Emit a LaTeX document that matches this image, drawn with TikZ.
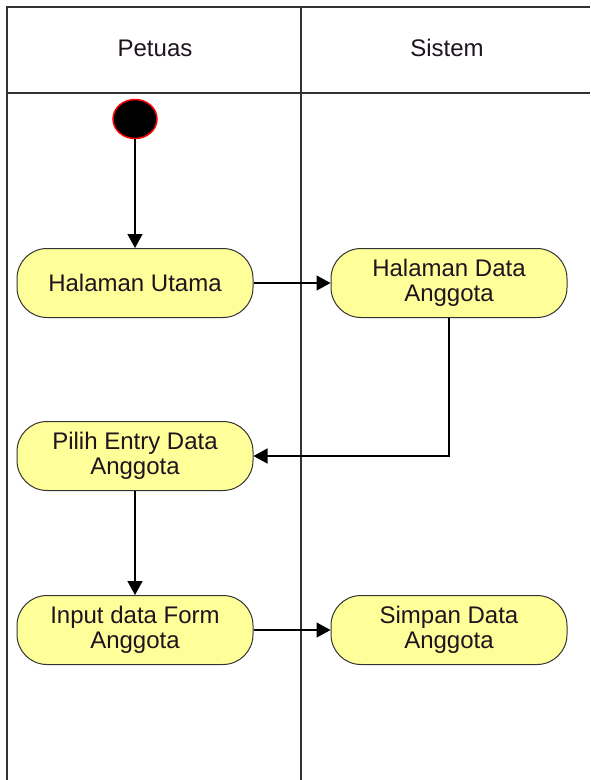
\documentclass[tikz,border=0pt]{standalone}
\usepackage{fontspec}
\setmainfont{Liberation Sans}
\usetikzlibrary{arrows.meta,shapes.geometric}
\definecolor{boxfill}{RGB}{255,255,153}
\definecolor{framecol}{RGB}{50,50,50}
\definecolor{txt}{RGB}{30,20,30}
\tikzset{
  act/.style={draw=black!80, line width=1pt, fill=boxfill, rounded corners=30pt,
    minimum width=236pt, minimum height=69pt, align=center, text=txt,
    font=\fontsize{24pt}{25pt}\selectfont, inner sep=0pt},
  flow/.style={draw=black, line width=1.4pt, -{Triangle[length=14pt,width=15pt]}},
  frame/.style={draw=framecol, line width=2pt},
  lane/.style={font=\fontsize{24pt}{26pt}\selectfont, text=txt}
}
\begin{document}
\begin{tikzpicture}[x=1pt,y=-1pt]
\useasboundingbox (0,0) rectangle (590,780);
\fill[white] (0,0) rectangle (590,780);
% swimlane frame
\draw[frame] (590,7) -- (7,7) -- (7,780);
\draw[frame] (7,93) -- (590,93);
\draw[frame] (301,7) -- (301,780);
\node[lane] (petuas) at (155,48) {Petuas};
\node[lane] (sistem) at (447,48) {Sistem};
% start
\node[draw=red, line width=1.5pt, fill=black, ellipse, minimum width=44pt, minimum height=39pt, inner sep=0pt] (start) at (135,119) {};
% activities
\node[act] (utama) at (135,283) {Halaman Utama};
\node[act] (hdata) at (449,283) {Halaman Data\\Anggota};
\node[act] (pilih) at (135,456) {Pilih Entry Data\\Anggota};
\node[act] (input) at (135,630) {Input data Form\\Anggota};
\node[act] (simpan) at (449,630) {Simpan Data\\Anggota};
% flows
\draw[flow] (start) -- (utama);
\draw[flow] (utama) -- (hdata);
\draw[flow] (hdata.south) |- (pilih.east);
\draw[flow] (pilih) -- (input);
\draw[flow] (input) -- (simpan);
\end{tikzpicture}
\end{document}
